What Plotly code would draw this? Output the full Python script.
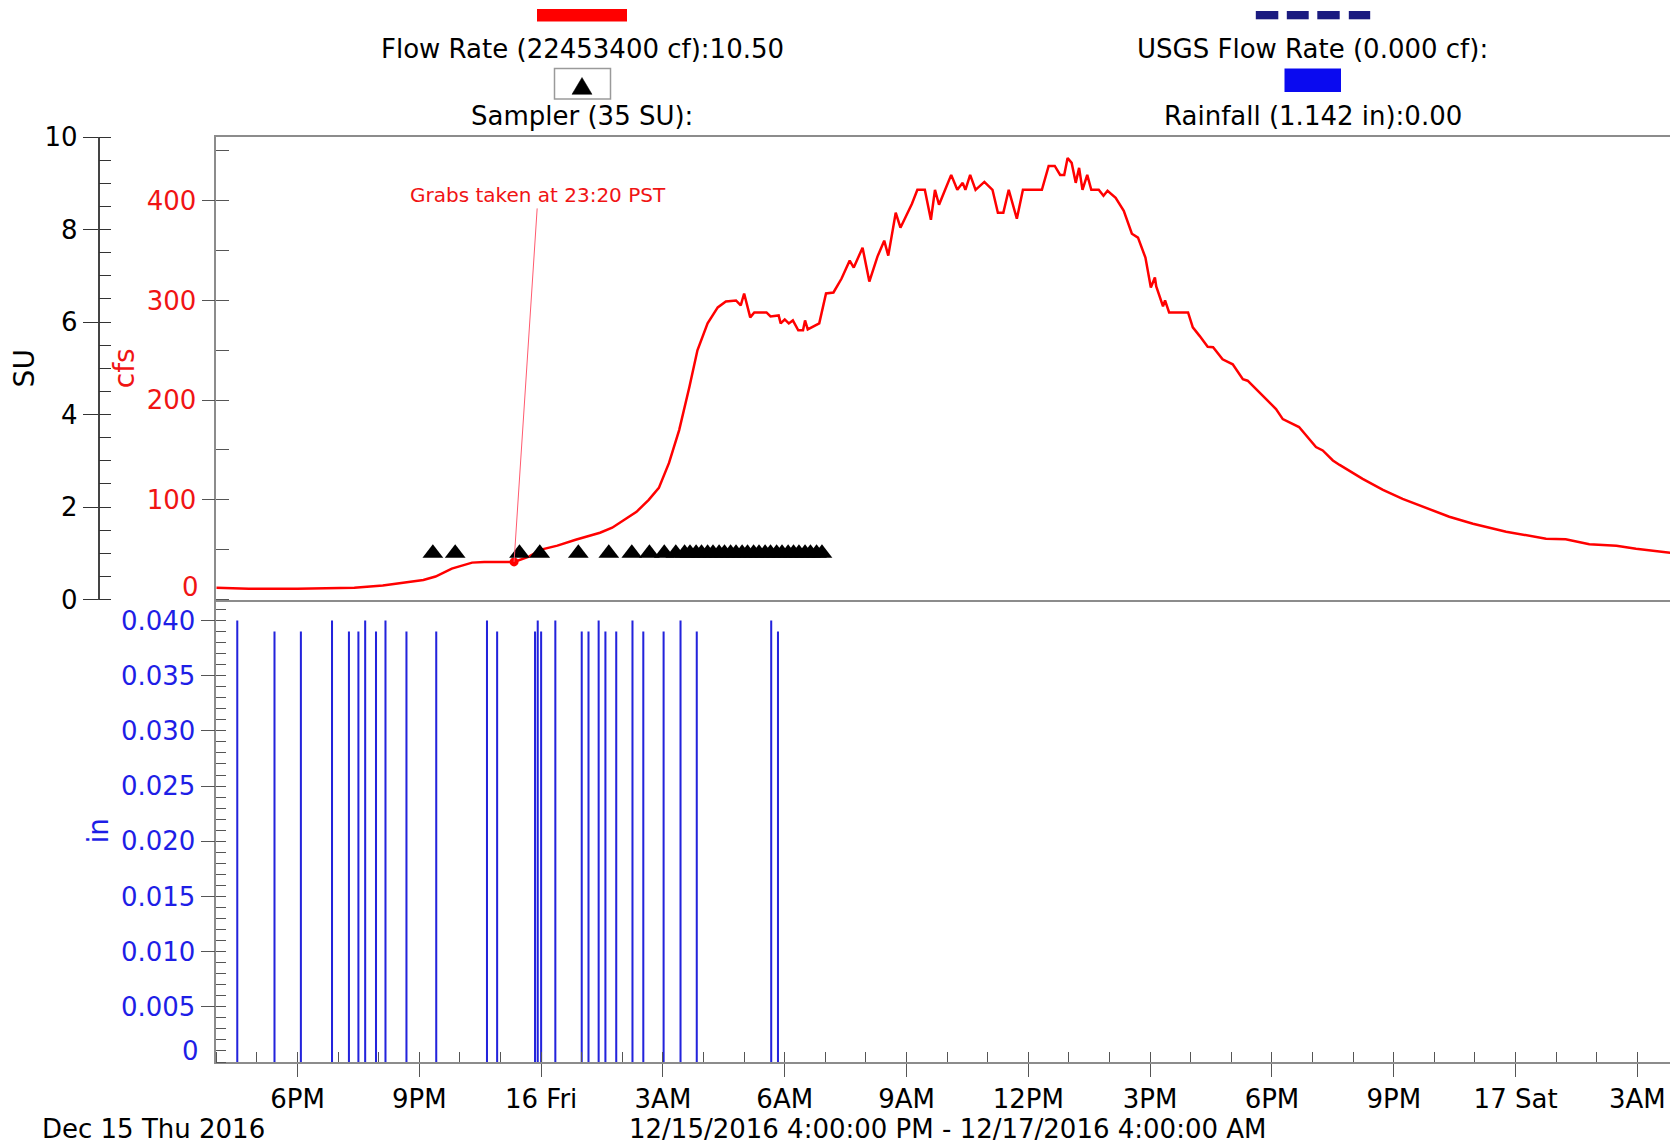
import plotly.graph_objects as go

# ---------------- data ----------------
flow_time = [
    "2016-12-15 16:00", "2016-12-15 16:48", "2016-12-15 18:00", "2016-12-15 19:24",
    "2016-12-15 20:06", "2016-12-15 20:42", "2016-12-15 21:06", "2016-12-15 21:24",
    "2016-12-15 21:48", "2016-12-15 22:18", "2016-12-15 22:36", "2016-12-15 23:20",
    "2016-12-15 23:42", "2016-12-16 00:00", "2016-12-16 00:24", "2016-12-16 00:51",
    "2016-12-16 01:06", "2016-12-16 01:27", "2016-12-16 01:45", "2016-12-16 02:03",
    "2016-12-16 02:21", "2016-12-16 02:39", "2016-12-16 02:54", "2016-12-16 03:09",
    "2016-12-16 03:24", "2016-12-16 03:39", "2016-12-16 03:51", "2016-12-16 04:06",
    "2016-12-16 04:21", "2016-12-16 04:33", "2016-12-16 04:48", "2016-12-16 04:55",
    "2016-12-16 05:00", "2016-12-16 05:09", "2016-12-16 05:15", "2016-12-16 05:33",
    "2016-12-16 05:39", "2016-12-16 05:51", "2016-12-16 05:54", "2016-12-16 06:00",
    "2016-12-16 06:06", "2016-12-16 06:12", "2016-12-16 06:20", "2016-12-16 06:27",
    "2016-12-16 06:30", "2016-12-16 06:34", "2016-12-16 06:51", "2016-12-16 07:01",
    "2016-12-16 07:12", "2016-12-16 07:24", "2016-12-16 07:36", "2016-12-16 07:42",
    "2016-12-16 07:55", "2016-12-16 08:05", "2016-12-16 08:17", "2016-12-16 08:27",
    "2016-12-16 08:33", "2016-12-16 08:44", "2016-12-16 08:51", "2016-12-16 09:08",
    "2016-12-16 09:16", "2016-12-16 09:27", "2016-12-16 09:36", "2016-12-16 09:42",
    "2016-12-16 09:48", "2016-12-16 09:57", "2016-12-16 10:06", "2016-12-16 10:15",
    "2016-12-16 10:23", "2016-12-16 10:27", "2016-12-16 10:34", "2016-12-16 10:42",
    "2016-12-16 10:55", "2016-12-16 11:07", "2016-12-16 11:15", "2016-12-16 11:23",
    "2016-12-16 11:31", "2016-12-16 11:43", "2016-12-16 11:52", "2016-12-16 12:20",
    "2016-12-16 12:30", "2016-12-16 12:39", "2016-12-16 12:47", "2016-12-16 12:53",
    "2016-12-16 12:58", "2016-12-16 13:04", "2016-12-16 13:10", "2016-12-16 13:15",
    "2016-12-16 13:20", "2016-12-16 13:27", "2016-12-16 13:33", "2016-12-16 13:44",
    "2016-12-16 13:51", "2016-12-16 13:57", "2016-12-16 14:09", "2016-12-16 14:21",
    "2016-12-16 14:33", "2016-12-16 14:42", "2016-12-16 14:53", "2016-12-16 15:01",
    "2016-12-16 15:07", "2016-12-16 15:09", "2016-12-16 15:19", "2016-12-16 15:22",
    "2016-12-16 15:28", "2016-12-16 15:56", "2016-12-16 16:03", "2016-12-16 16:13",
    "2016-12-16 16:25", "2016-12-16 16:33", "2016-12-16 16:47", "2016-12-16 17:02",
    "2016-12-16 17:17", "2016-12-16 17:24", "2016-12-16 17:46", "2016-12-16 18:06",
    "2016-12-16 18:16", "2016-12-16 18:40", "2016-12-16 19:05", "2016-12-16 19:15",
    "2016-12-16 19:30", "2016-12-16 19:40", "2016-12-16 20:14", "2016-12-16 20:44",
    "2016-12-16 21:13", "2016-12-16 21:43", "2016-12-16 22:22", "2016-12-16 22:57",
    "2016-12-16 23:46", "2016-12-17 00:45", "2016-12-17 01:14", "2016-12-17 01:49",
    "2016-12-17 02:29", "2016-12-17 02:58", "2016-12-17 03:42", "2016-12-17 04:00",
]
flow_cfs = [
    11.7, 10.8, 10.8, 11.7, 14, 17, 19.5, 23,
    31, 37, 37.7, 37.7, 43, 50, 54, 60,
    63, 67, 72, 80, 88, 100, 112, 137,
    170, 213, 250, 277, 293, 299, 300, 295,
    307, 283, 288, 288, 284, 285, 277, 281,
    277, 280, 270, 270, 280, 271, 277, 307,
    308, 322, 340, 333, 353, 319, 344, 360,
    345, 388, 373, 397, 411, 411, 381, 411,
    396, 411, 426, 411, 418, 411, 426, 411,
    419, 411, 388, 388, 411, 382, 411, 411,
    435, 435, 426, 426, 443, 438, 418, 433,
    411, 426, 411, 411, 405, 410, 403, 390,
    367, 363, 343, 313, 323, 314, 294, 300,
    288, 288, 273, 264.5, 253.5, 253, 241, 236,
    221, 219.5, 204.5, 191, 181, 173, 153, 149.5,
    139.5, 135, 121, 110, 101, 93, 83, 76,
    68, 61, 60.5, 55.5, 54, 51, 47, 46,
]

rain_time = [
    "2016-12-15 16:31", "2016-12-15 17:26", "2016-12-15 18:05", "2016-12-15 18:51",
    "2016-12-15 19:16", "2016-12-15 19:30", "2016-12-15 19:40", "2016-12-15 19:56",
    "2016-12-15 20:10", "2016-12-15 20:41", "2016-12-15 21:25", "2016-12-15 22:40",
    "2016-12-15 22:55", "2016-12-15 23:51", "2016-12-15 23:55", "2016-12-16 00:00",
    "2016-12-16 00:21", "2016-12-16 01:00", "2016-12-16 01:10", "2016-12-16 01:25",
    "2016-12-16 01:35", "2016-12-16 01:51", "2016-12-16 02:15", "2016-12-16 02:31",
    "2016-12-16 03:01", "2016-12-16 03:26", "2016-12-16 03:50", "2016-12-16 05:40",
    "2016-12-16 05:50",
]
rain_in = [
    0.040, 0.039, 0.039, 0.040, 0.039, 0.039, 0.040, 0.039,
    0.040, 0.039, 0.039, 0.040, 0.039, 0.039, 0.040, 0.039,
    0.040, 0.039, 0.039, 0.040, 0.039, 0.039, 0.040, 0.039,
    0.039, 0.040, 0.039, 0.040, 0.039,
]

sampler_time = [
    "2016-12-15 21:20", "2016-12-15 21:53", "2016-12-15 23:28", "2016-12-15 23:58",
    "2016-12-16 00:55", "2016-12-16 01:40", "2016-12-16 02:14", "2016-12-16 02:40",
    "2016-12-16 03:02", "2016-12-16 03:19", "2016-12-16 03:32", "2016-12-16 03:40",
    "2016-12-16 03:49", "2016-12-16 03:57", "2016-12-16 04:06", "2016-12-16 04:14",
    "2016-12-16 04:23", "2016-12-16 04:31", "2016-12-16 04:40", "2016-12-16 04:48",
    "2016-12-16 04:57", "2016-12-16 05:05", "2016-12-16 05:14", "2016-12-16 05:22",
    "2016-12-16 05:31", "2016-12-16 05:39", "2016-12-16 05:48", "2016-12-16 05:56",
    "2016-12-16 06:05", "2016-12-16 06:13", "2016-12-16 06:21", "2016-12-16 06:30",
    "2016-12-16 06:38", "2016-12-16 06:47", "2016-12-16 06:55",
]
sampler_su = [1, 1, 1, 1, 1, 1, 1, 1, 1, 1, 1, 1, 1, 1, 1, 1, 1, 1,
              1, 1, 1, 1, 1, 1, 1, 1, 1, 1, 1, 1, 1, 1, 1, 1, 1]

grab_time = "2016-12-15 23:20"
grab_cfs = 37.7

x_range = ["2016-12-15 16:00", "2016-12-17 04:00"]
x_tick_vals = [
    "2016-12-15 18:00", "2016-12-15 21:00", "2016-12-16 00:00", "2016-12-16 03:00",
    "2016-12-16 06:00", "2016-12-16 09:00", "2016-12-16 12:00", "2016-12-16 15:00",
    "2016-12-16 18:00", "2016-12-16 21:00", "2016-12-17 00:00", "2016-12-17 03:00",
]
x_tick_text = ["6PM", "9PM", "16 Fri", "3AM", "6AM", "9AM", "12PM", "3PM",
               "6PM", "9PM", "17 Sat", "3AM"]

cfs_tick_vals = [100, 200, 300, 400]
rain_tick_vals = [0.005, 0.010, 0.015, 0.020, 0.025, 0.030, 0.035, 0.040]
rain_tick_text = ["0.005", "0.010", "0.015", "0.020", "0.025", "0.030", "0.035", "0.040"]

# ---------------- styling ----------------
FONT = "DejaVu Sans, Liberation Sans, Arial, sans-serif"
RED = "#f01414"
BLUE = "#1e1ee6"
FRAME = "#8c8c8c"
TICK = "#555555"
FS = 26

# the page body has an 8px margin; positions below are given in page pixels
OFF = 8
W, H = 1670, 1140
MT, MB = 129, 86
PH = H - MT - MB


def px(xp):
    return (xp - OFF) / W


def py(yp):
    return (H - MB - (yp - OFF)) / PH


xdom = [px(216.3), 1.0]

fig = go.Figure()
fig.add_trace(go.Bar(
    x=rain_time, y=rain_in, xaxis="x", yaxis="y", width=180000,
    marker=dict(color="#2323dc", line=dict(width=0)), name="Rainfall"))
fig.add_trace(go.Scatter(
    x=flow_time, y=flow_cfs, xaxis="x2", yaxis="y2", mode="lines",
    line=dict(color="#ff0000", width=2.5), name="Flow Rate"))
fig.add_trace(go.Scatter(
    x=[grab_time], y=[grab_cfs], xaxis="x2", yaxis="y2", mode="markers",
    marker=dict(color="#ff0000", size=9), name="Grab"))
fig.add_trace(go.Scatter(
    x=sampler_time, y=sampler_su, xaxis="x2", yaxis="y3", mode="markers",
    marker=dict(symbol="triangle-up", size=18, color="black"), name="Sampler"))

fig.update_layout(
    width=W, height=H,
    margin=dict(l=0, r=0, t=MT, b=MB),
    paper_bgcolor="white", plot_bgcolor="white",
    showlegend=False,
    font=dict(family=FONT, size=FS, color="black"),
    xaxis=dict(
        domain=xdom, anchor="y", type="date", range=x_range,
        tickmode="array", tickvals=x_tick_vals, ticktext=x_tick_text,
        ticks="outside", ticklen=13, tickcolor=TICK, tickwidth=1,
        showline=True, linecolor=FRAME, linewidth=1.5,
        showgrid=False, zeroline=False,
        minor=dict(ticks="inside", ticklen=10, tickcolor=TICK, tickwidth=1,
                   tickmode="linear", tick0="2016-12-15 16:00", dtick=3600000),
    ),
    xaxis2=dict(
        domain=xdom, anchor="y2", type="date", matches="x",
        showticklabels=False, ticks="",
        showline=True, mirror=True, linecolor=FRAME, linewidth=1.5,
        showgrid=False, zeroline=False,
    ),
    yaxis=dict(
        domain=[0, 0.5], anchor="x", range=[0, 0.0419],
        tickmode="array", tickvals=rain_tick_vals, ticktext=rain_tick_text,
        ticks="outside", ticklen=14, tickcolor=TICK,
        tickfont=dict(color=BLUE),
        minor=dict(ticks="inside", ticklen=10, tickcolor=TICK,
                   tickmode="linear", tick0=0, dtick=0.001),
        showline=True, linecolor=FRAME, linewidth=1.5,
        showgrid=False, zeroline=False,
        title=dict(text="in", font=dict(color=BLUE, size=28), standoff=4),
    ),
    yaxis2=dict(
        domain=[0.5, 1], anchor="x2", range=[0, 464],
        tickmode="array", tickvals=cfs_tick_vals,
        ticks="outside", ticklen=13, tickcolor=TICK,
        tickfont=dict(color=RED),
        minor=dict(ticks="inside", ticklen=13, tickcolor=TICK,
                   tickmode="linear", tick0=0, dtick=50),
        showline=True, linecolor=FRAME, linewidth=1.5,
        showgrid=False, zeroline=False,
        title=dict(text="cfs", font=dict(color=RED, size=28), standoff=4),
    ),
    yaxis3=dict(
        overlaying="y2", anchor="free", position=px(98.5), side="left",
        range=[0, 10], tickmode="linear", tick0=0, dtick=2,
        ticks="outside", ticklen=15, tickcolor="#333333",
        minor=dict(ticks="inside", ticklen=12, tickcolor="#333333",
                   tickmode="linear", tick0=0, dtick=0.5),
        showline=True, linecolor="#444444", linewidth=1.5,
        showgrid=False, zeroline=False,
        title=dict(text="SU", font=dict(size=28), standoff=12),
    ),
)

annotations = [
    dict(x=grab_time, y=grab_cfs, xref="x2", yref="y2",
         text="Grabs taken at 23:20 PST", font=dict(color=RED, size=20),
         showarrow=True, arrowhead=0, arrowwidth=1, arrowcolor="#ff5a6e",
         ax=24, ay=-367),
    # raised "0" labels at the bottom of the flow and rain axes
    dict(x=px(201), y=py(587), xref="paper", yref="paper", xanchor="right",
         yanchor="middle", text="0", showarrow=False,
         font=dict(color=RED, size=FS)),
    dict(x=px(201), y=py(1051), xref="paper", yref="paper", xanchor="right",
         yanchor="middle", text="0", showarrow=False,
         font=dict(color=BLUE, size=FS)),
    dict(x=px(40), y=py(1129), xref="paper", yref="paper", xanchor="left",
         yanchor="middle", text="Dec 15 Thu 2016", showarrow=False,
         font=dict(size=FS)),
    dict(x=px(947.6), y=py(1129), xref="paper", yref="paper", xanchor="center",
         yanchor="middle", text="12/15/2016 4:00:00 PM - 12/17/2016 4:00:00 AM",
         showarrow=False, font=dict(size=FS)),
    dict(x=px(582), y=py(49), xref="paper", yref="paper", xanchor="center",
         yanchor="middle", text="Flow Rate (22453400 cf):10.50", showarrow=False,
         font=dict(size=FS)),
    dict(x=px(582), y=py(115.6), xref="paper", yref="paper", xanchor="center",
         yanchor="middle", text="Sampler (35 SU):", showarrow=False,
         font=dict(size=FS)),
    dict(x=px(1312.5), y=py(49), xref="paper", yref="paper", xanchor="center",
         yanchor="middle", text="USGS Flow Rate (0.000 cf):", showarrow=False,
         font=dict(size=FS)),
    dict(x=px(1312.5), y=py(115.6), xref="paper", yref="paper", xanchor="center",
         yanchor="middle", text="Rainfall (1.142 in):0.00", showarrow=False,
         font=dict(size=FS)),
]

shapes = [
    # flow rate legend swatch
    dict(type="rect", xref="paper", yref="paper", x0=px(537), x1=px(627),
         y0=py(21.5), y1=py(9), fillcolor="#ff0000", line=dict(width=0)),
    # sampler legend box
    dict(type="rect", xref="paper", yref="paper", x0=px(554.5), x1=px(610.5),
         y0=py(99), y1=py(68.5), fillcolor="white",
         line=dict(color="#9a9a9a", width=1.5)),
    dict(type="path", xref="paper", yref="paper",
         path=f"M {px(572)},{py(94.3)} L {px(592)},{py(94.3)} L {px(582)},{py(77.5)} Z",
         fillcolor="black", line=dict(color="black", width=0.5)),
    # rainfall legend swatch
    dict(type="rect", xref="paper", yref="paper", x0=px(1284.5), x1=px(1341),
         y0=py(92), y1=py(68.5), fillcolor="#0a0af0", line=dict(width=0)),
]
# USGS dashed legend swatch (4 dashes)
for d0, d1 in [(1255.8, 1278.3), (1286.8, 1308.7), (1317.3, 1339.7), (1348.8, 1370.2)]:
    shapes.append(dict(type="rect", xref="paper", yref="paper", x0=px(d0), x1=px(d1),
                       y0=py(19.3), y1=py(11), fillcolor="#1b1b80", line=dict(width=0)))

fig.update_layout(annotations=annotations, shapes=shapes)

fig.write_html("out.html")
